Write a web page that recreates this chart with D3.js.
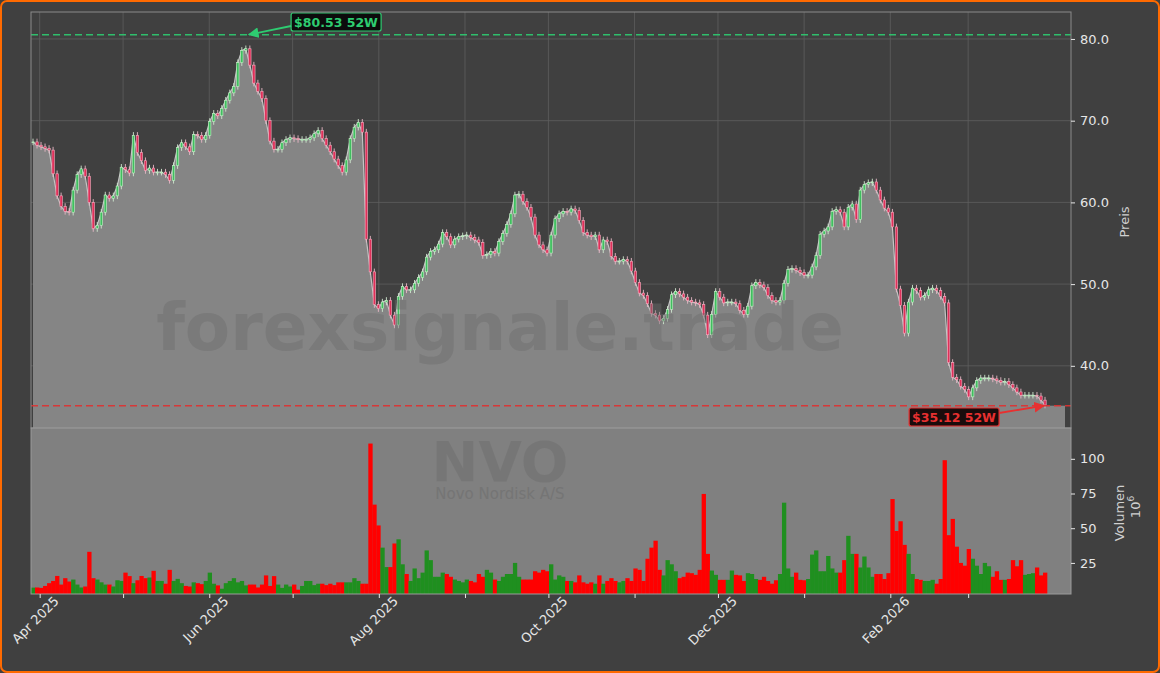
<!DOCTYPE html>
<html>
<head>
<meta charset="utf-8">
<script src="https://cdn.jsdelivr.net/npm/d3@7"></script>
<style>
  html, body { margin: 0; padding: 0; background: #404040; }
  svg { display: block; font-family: "DejaVu Sans", sans-serif; }
</style>
</head>
<body>
<svg id="chart" width="1160" height="673"></svg>
<script>
// Data
const symbol = 'NVO';
const companyName = 'Novo Nordisk A/S';
const high52 = 80.53;
const low52 = 35.12;
const holidays = ['2025-04-18', '2025-05-26', '2025-07-04', '2025-09-01', '2025-11-27', '2025-12-25', '2026-01-01'];

const closes = [
  67.4, 67.0, 66.8, 66.6, 66.4, 63.5, 60.8, 59.5, 58.9, 58.8,
  61.5, 63.4, 64.1, 63.2, 60.0, 56.8, 57.2, 58.8, 60.9, 60.5,
  60.8, 62.0, 64.3, 64.0, 63.6, 68.2, 66.1, 65.1, 63.9,
  64.2, 63.7, 63.7, 63.7, 63.4, 62.7, 64.5, 66.7, 67.3, 66.8,
  66.2, 68.3, 68.2, 67.7, 68.2, 69.9, 70.9, 70.6, 71.5, 72.5,
  73.4, 74.2, 77.1, 78.6, 78.8, 76.8, 74.6, 73.6, 72.7,
  70.0, 67.5, 66.5, 66.5, 67.3, 67.7, 67.9, 67.8, 67.7, 67.7,
  67.7, 67.9, 68.4, 68.8, 67.8, 67.0, 66.2, 65.3, 64.5, 63.7,
  65.2, 67.8, 69.2, 69.8, 68.6, 55.5, 51.5, 47.5, 47.0,
  47.8, 48.0, 46.2, 45.0, 48.5, 49.7, 49.3, 49.3, 50.1, 50.8,
  51.5, 53.3, 54.0, 54.2, 54.9, 56.3, 55.8, 54.8, 55.5, 55.8,
  55.9, 56.0, 55.7, 55.4, 55.1, 53.5, 53.6, 54.0, 53.8,
  55.2, 56.2, 57.3, 58.6, 60.9, 61.0, 60.1, 59.4, 58.2, 56.0,
  54.8, 54.2, 53.8, 56.0, 58.0, 58.6, 58.9, 58.8, 59.2, 59.0,
  57.8, 56.3, 56.0, 55.8, 56.0, 54.2, 55.4, 55.2, 53.4,
  52.8, 52.8, 53.0, 52.8, 51.6, 50.2, 48.9, 48.6, 47.6, 46.4,
  46.2, 45.5, 45.8, 46.9, 48.7, 49.1, 48.8, 48.4, 48.0, 47.8,
  47.7, 47.5, 46.2, 43.8, 46.3, 49.1, 48.4, 47.7, 47.8,
  47.8, 47.6, 46.8, 46.3, 47.3, 49.8, 50.2, 49.9, 49.6, 48.6,
  48.0, 47.8, 48.0, 50.1, 51.8, 51.9, 51.7, 51.4, 51.1, 51.1,
  52.1, 53.5, 56.1, 56.5, 57.0, 58.9, 59.1, 58.8, 57.0,
  59.4, 59.8, 57.9, 61.5, 62.2, 62.4, 62.5, 61.5, 60.3, 59.3,
  58.8, 57.0, 49.4, 47.4, 44.0, 47.8, 49.5, 49.2, 48.4, 48.6,
  49.3, 49.5, 49.2, 48.5, 47.7, 40.4, 38.6, 38.3, 37.5,
  37.1, 36.2, 37.3, 38.2, 38.5, 38.5, 38.5, 38.4, 38.2, 38.0,
  38.1, 37.7, 37.3, 36.8, 36.4, 36.4, 36.4, 36.4, 36.3, 35.8, 35.2
];

// volume in millions
const volumes = [
  7.2, 7.3, 7, 8.4, 10.4, 12, 15.6, 9.4, 14, 11.6,
  13, 9.4, 7.3, 8, 33, 14, 13, 11, 9.4, 9.4,
  8, 12.5, 12, 18, 15.5, 10.4, 12.5, 15.6, 14, 14.5,
  19.3, 12, 12, 10, 20, 12, 13.5, 10.4, 8.4, 8,
  11, 10.4, 9.7, 12, 18, 10, 8.8, 6.4, 10.4, 12,
  14, 11, 12, 8.8, 9.4, 9.4, 7.3, 9.4, 16, 8.4,
  15.5, 9.4, 7, 9.4, 8, 9.4, 5.7, 8.4, 12,
  12, 9, 10, 10, 9, 10, 9, 11, 11, 11, 11, 14, 12, 10, 10,
  111, 67, 52, 36, 22, 22, 39, 42, 24, 17,
  12, 21, 14, 18, 34, 27, 15, 15, 18, 17,
  15, 13, 12, 11, 13, 12, 11, 17, 15, 20,
  18, 13, 12, 15, 17, 17, 25, 15, 13, 13,
  13, 19, 18, 20, 19, 24, 13, 16, 15, 12,
  12, 11, 16, 11, 10, 11, 10, 16, 10, 12,
  14, 12, 11, 12, 14, 12, 21, 20, 12, 28,
  36, 41, 20, 16, 27, 24, 19, 14, 15, 18,
  17.6, 16.4, 20, 74.7, 31.5, 19.5, 16.4, 12.8, 12.8, 12.8,
  19.5, 16.4, 16, 12, 17.6, 17, 13.4, 12.8, 15, 12,
  10, 12.5, 17, 68.4, 21, 15, 18, 12.8, 12.5, 13.4,
  31, 34, 19, 19, 30, 21, 18, 18, 27, 44.5,
  31.5, 31.5, 21.7, 29.6, 21.7,
  15, 17, 17, 13.4, 17.6, 71, 48, 55, 38, 31.5,
  17, 13.4, 12.8, 12, 12, 12.8, 10, 13.4, 99, 45,
  56.7, 36.7, 25, 23, 35, 28, 23, 17, 25, 22.6,
  15, 19, 12.8, 12.8, 13.4, 27, 22.6, 27, 16.4, 17,
  17.6, 21.7, 16, 18
];

const priceTicks = [40, 50, 60, 70, 80];
const volumeTicks = [25, 50, 75, 100];

// trading days
const fmt = d3.timeFormat('%Y-%m-%d');
const dates = d3.timeDay.range(new Date(2025, 2, 31), new Date(2026, 2, 28))
  .filter(d => d.getDay() !== 0 && d.getDay() !== 6 && !holidays.includes(fmt(d)));

const n = Math.min(dates.length, closes.length, volumes.length);
const data = [];
for (let i = 0; i < n; i++) {
  const open = i === 0 ? closes[0] : closes[i - 1];
  const close = closes[i];
  data.push({
    i, date: dates[i], open, close,
    high: Math.max(open, close) + 0.4,
    low: Math.min(open, close) - 0.4,
    volume: volumes[i]
  });
}

// Setup
const svg = d3.select('#chart');
const left = 31, right = 1071;
const priceTop = 12, priceBottom = 428, volBottom = 594;

// calendar scale for the month ticks, index scale for the bars
const x = d3.scaleTime()
  .domain([new Date(2025, 2, 28, 21), new Date(2026, 3, 7, 0)])
  .range([left, right]);
const xi = d3.scaleLinear().domain([0, n - 1]).range([33, 1045]);
const step = xi(1) - xi(0);
const y = d3.scaleLinear().domain([32.39, 83.3]).range([priceBottom, priceTop]);
const yv = d3.scaleLinear().domain([2.6, 122.2]).range([volBottom, priceBottom]);

// background + frame
svg.append('rect').attr('x', 1).attr('y', 1).attr('width', 1158).attr('height', 671)
  .attr('rx', 6).attr('fill', '#404040').attr('stroke', '#ff6a00').attr('stroke-width', 2);

svg.append('clipPath').attr('id', 'pclip').append('rect')
  .attr('x', left).attr('y', priceTop).attr('width', right - left).attr('height', priceBottom - priceTop);

// volume panel background
svg.append('rect').attr('x', left).attr('y', priceBottom).attr('width', right - left)
  .attr('height', volBottom - priceBottom).attr('fill', '#808080');

// grid
const months = d3.timeMonth.range(new Date(2025, 3, 1), new Date(2026, 2, 2));
svg.append('g').selectAll('line').data(months).join('line')
  .attr('x1', d => x(d)).attr('x2', d => x(d)).attr('y1', priceTop).attr('y2', priceBottom)
  .attr('stroke', '#5e5e5e').attr('stroke-width', 0.8);
svg.append('g').selectAll('line').data(priceTicks).join('line')
  .attr('x1', left).attr('x2', right).attr('y1', d => y(d)).attr('y2', d => y(d))
  .attr('stroke', '#5e5e5e').attr('stroke-width', 0.8);

// area of close
const area = d3.area().x(d => xi(d.i)).y0(priceBottom).y1(d => y(d.close));
const line = d3.line().x(d => xi(d.i)).y(d => y(d.close));
const pg = svg.append('g').attr('clip-path', 'url(#pclip)');
pg.append('path').datum(data).attr('d', area).attr('fill', '#858585');
// flat tail after the last session at the 52W low level
pg.append('rect').attr('x', xi(n - 1)).attr('y', y(low52)).attr('width', 1065 - xi(n - 1))
  .attr('height', priceBottom - y(low52)).attr('fill', '#858585');
pg.append('path').datum(data).attr('d', line).attr('fill', 'none')
  .attr('stroke', '#c4c4c4').attr('stroke-width', 1.2);

// watermarks
svg.append('text').attr('x', 500).attr('y', 350).attr('text-anchor', 'middle')
  .attr('font-size', 66).attr('font-weight', 'bold').attr('fill', '#6e6e6e').attr('opacity', 0.45)
  .text('forexsignale.trade');
svg.append('text').attr('x', 500).attr('y', 481).attr('text-anchor', 'middle')
  .attr('font-size', 56).attr('font-weight', 'bold').attr('fill', '#6e6e6e').attr('opacity', 0.5)
  .text(symbol);
svg.append('text').attr('x', 500).attr('y', 499).attr('text-anchor', 'middle')
  .attr('font-size', 15).attr('fill', '#6e6e6e').attr('opacity', 0.6)
  .text(companyName);

// candles
const cw = 2.4;
const candles = pg.append('g').selectAll('g').data(data).join('g');
candles.append('line')
  .attr('x1', d => xi(d.i)).attr('x2', d => xi(d.i))
  .attr('y1', d => y(d.high)).attr('y2', d => y(d.low))
  .attr('stroke', d => d.close >= d.open ? '#cfe8cf' : '#e8b8c6').attr('stroke-width', 0.9);
candles.append('rect')
  .attr('x', d => xi(d.i) - cw / 2).attr('width', cw)
  .attr('y', d => y(Math.max(d.open, d.close)))
  .attr('height', d => Math.max(0.8, Math.abs(y(d.open) - y(d.close))))
  .attr('fill', d => d.close >= d.open ? '#3fbf5f' : '#e0305a')
  .attr('stroke', d => d.close >= d.open ? '#c8f0c8' : '#f4b0c0').attr('stroke-width', 0.6);

// volume bars
svg.append('g').selectAll('rect').data(data).join('rect')
  .attr('x', d => xi(d.i) - step / 2).attr('width', step + 0.3)
  .attr('y', d => yv(d.volume)).attr('height', d => volBottom - yv(d.volume))
  .attr('fill', d => d.close >= d.open ? '#1f8f1f' : '#ff0000');

// 52W lines
svg.append('line').attr('x1', left).attr('x2', right).attr('y1', y(high52)).attr('y2', y(high52))
  .attr('stroke', '#2ecc71').attr('stroke-width', 1.5).attr('stroke-dasharray', '7,4').attr('opacity', 0.9);
svg.append('line').attr('x1', left).attr('x2', right).attr('y1', y(low52)).attr('y2', y(low52))
  .attr('stroke', '#e03030').attr('stroke-width', 1.5).attr('stroke-dasharray', '7,4').attr('opacity', 0.9);

// annotations
const defs = svg.append('defs');
[['ag', '#2ecc71'], ['ar', '#e83030']].forEach(([id, c]) => {
  defs.append('marker').attr('id', id).attr('viewBox', '0 0 10 10').attr('refX', 9).attr('refY', 5)
    .attr('markerWidth', 6).attr('markerHeight', 6).attr('orient', 'auto')
    .append('path').attr('d', 'M0,0L10,5L0,10z').attr('fill', c);
});
const hiIdx = d3.maxIndex(data, d => d.close);
const loIdx = data.length - 1;

function label(cx, cy, text, color, bg, border) {
  const g = svg.append('g');
  const t = g.append('text').attr('x', cx).attr('y', cy + 4.5).attr('text-anchor', 'middle')
    .attr('font-size', 12.5).attr('font-weight', 'bold').attr('fill', color).text(text);
  const bb = t.node().getBBox();
  g.insert('rect', 'text').attr('x', bb.x - 3).attr('y', cy - 9).attr('width', bb.width + 6).attr('height', 18)
    .attr('rx', 2).attr('fill', bg).attr('stroke', border).attr('stroke-width', 1.2);
  return bb;
}
const hb = label(336, 22, `$${high52.toFixed(2)} 52W`, '#2ecc71', '#0c0c0c', '#2ecc71');
svg.append('line').attr('x1', hb.x - 3).attr('y1', 26).attr('x2', xi(hiIdx) + 3).attr('y2', y(high52))
  .attr('stroke', '#2ecc71').attr('stroke-width', 1.8).attr('marker-end', 'url(#ag)');
const lb = label(954, 417, `$${low52.toFixed(2)} 52W`, '#e83030', '#1a0c0c', '#e83030');
svg.append('line').attr('x1', lb.x + lb.width + 3).attr('y1', 413).attr('x2', xi(loIdx) - 1).attr('y2', y(low52))
  .attr('stroke', '#e83030').attr('stroke-width', 1.8).attr('marker-end', 'url(#ar)');

// panel frames
svg.append('rect').attr('x', left).attr('y', priceTop).attr('width', right - left).attr('height', priceBottom - priceTop)
  .attr('fill', 'none').attr('stroke', '#8a8a8a').attr('stroke-width', 1);
svg.append('rect').attr('x', left).attr('y', priceBottom).attr('width', right - left).attr('height', volBottom - priceBottom)
  .attr('fill', 'none').attr('stroke', '#9a9a9a').attr('stroke-width', 1);

// right axes
const axisColor = '#e6e6e6';
const py = svg.append('g').attr('transform', `translate(${right},0)`)
  .call(d3.axisRight(y).tickValues(priceTicks).tickFormat(d3.format('.1f')).tickSize(4).tickPadding(5));
const vy = svg.append('g').attr('transform', `translate(${right},0)`)
  .call(d3.axisRight(yv).tickValues(volumeTicks).tickSize(4).tickPadding(5));
[py, vy].forEach(a => {
  a.select('.domain').remove();
  a.selectAll('line').attr('stroke', axisColor);
  a.selectAll('text').attr('fill', axisColor).attr('font-size', 13).attr('font-family', 'DejaVu Sans');
});
svg.append('text').attr('transform', 'translate(1129,222) rotate(-90)').attr('text-anchor', 'middle')
  .attr('font-size', 13).attr('fill', '#d0d0d0').text('Preis');
svg.append('text').attr('transform', 'translate(1124,513) rotate(-90)').attr('text-anchor', 'middle')
  .attr('font-size', 13).attr('fill', '#d0d0d0').text('Volumen');
const sci = svg.append('text').attr('transform', 'translate(1140,507) rotate(-90)').attr('text-anchor', 'middle')
  .attr('font-size', 13).attr('fill', '#d0d0d0');
sci.append('tspan').text('10');
sci.append('tspan').attr('dy', -6).attr('font-size', 9).text('6');

// x axis
const xa = svg.append('g').attr('transform', `translate(0,${volBottom})`)
  .call(d3.axisBottom(x).tickValues(months).tickSize(4).tickFormat(''));
xa.select('.domain').remove();
xa.selectAll('line').attr('stroke', axisColor);
const labelMonths = months.filter(d => d.getMonth() % 2 === 1 && d < new Date(2026, 2, 1));
svg.append('g').selectAll('text').data(labelMonths).join('text')
  .attr('transform', d => `translate(${x(d) + 20},${volBottom + 8}) rotate(-45)`)
  .attr('text-anchor', 'end').attr('font-size', 13).attr('fill', axisColor)
  .text(d => d3.timeFormat('%b %Y')(d));
</script>
</body>
</html>
